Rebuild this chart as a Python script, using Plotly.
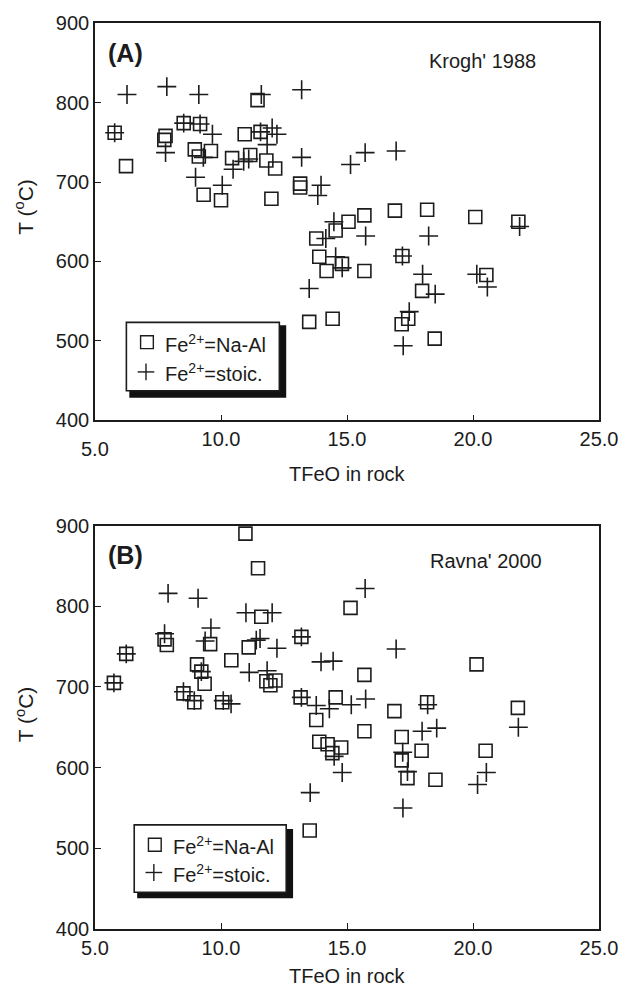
import plotly.graph_objects as go

# ---------------- Panel A (Krogh' 1988) ----------------
a_sq_x = [5.78, 6.23, 7.80, 7.75, 8.52, 9.17, 8.96, 9.12, 9.60, 9.31, 10.00, 10.44, 10.94, 11.16,
          11.45, 11.57, 11.80, 12.15, 12.00, 13.14, 13.14, 13.78, 13.90, 14.55, 15.06, 14.80, 14.19,
          13.50, 14.43, 15.69, 15.69, 16.90, 18.18, 20.09, 21.80, 17.20, 17.98, 20.53, 17.43, 17.17, 18.48]
a_sq_y = [762, 720, 758, 753, 774, 773, 741, 732, 739, 684, 677, 730, 760, 734,
          803, 763, 727, 717, 679, 698, 693, 629, 606, 639, 650, 597, 588,
          524, 528, 658, 588, 664, 665, 656, 650, 607, 563, 583, 528, 521, 503]

a_pl_x = [6.27, 7.85, 9.12, 11.60, 13.20, 5.78, 7.80, 8.52, 9.17, 9.66, 9.30, 8.99, 10.05, 10.48,
          11.10, 10.90, 11.57, 12.03, 12.22, 11.83, 13.20, 13.97, 13.84, 15.14, 15.72, 16.95,
          14.48, 14.16, 14.55, 14.81, 13.50, 15.74, 21.85, 18.24, 17.20, 18.00, 18.50, 20.15,
          20.57, 17.47, 17.23]
a_pl_y = [810, 820, 810, 810, 816, 762, 737, 774, 773, 760, 731, 706, 696, 716,
          729, 726, 763, 768, 760, 747, 731, 696, 683, 722, 737, 739,
          650, 629, 606, 592, 566, 632, 644, 632, 607, 584, 559, 584,
          568, 537, 494]

# ---------------- Panel B (Ravna' 2000) ----------------
b_sq_x = [10.97, 11.47, 11.60, 15.14, 7.76, 7.85, 9.57, 13.19, 11.10, 10.41, 6.24, 5.75, 9.05, 9.22,
          9.35, 11.80, 11.96, 12.16, 8.51, 8.94, 10.05, 13.16, 14.55, 13.78, 13.90, 14.23, 14.42,
          14.77, 13.52, 16.88, 18.18, 21.78, 15.69, 17.17, 17.96, 17.17, 20.50, 17.40, 18.51,
          15.69, 20.14]
b_sq_y = [890, 847, 787, 798, 759, 752, 753, 762, 749, 733, 741, 705, 728, 719,
          704, 707, 702, 708, 692, 681, 681, 687, 687, 659, 632, 629, 618,
          625, 522, 670, 681, 674, 645, 638, 621, 609, 621, 587, 585,
          715, 728]

b_pl_x = [7.90, 9.09, 10.99, 12.03, 9.60, 7.76, 9.37, 11.55, 11.40, 13.19, 12.22, 6.24, 5.75,
          9.22, 11.12, 11.83, 13.97, 14.45, 8.51, 8.94, 10.09, 10.40, 13.19, 13.78, 14.30,
          14.49, 14.81, 13.54, 15.17, 15.74, 18.20, 21.80, 17.98, 18.56, 17.21, 20.53, 20.18,
          17.40, 17.22, 15.72, 16.95]
b_pl_y = [816, 810, 792, 792, 773, 766, 757, 760, 758, 762, 748, 741, 705,
          719, 718, 720, 731, 732, 694, 683, 683, 679, 687, 677, 673,
          614, 594, 569, 678, 685, 678, 650, 645, 649, 619, 594, 579,
          595, 550, 822, 747]

x_ticks = [5, 10, 15, 20, 25]
x_tick_text_a = ["", "10.0", "15.0", "20.0", "25.0"]
x_tick_text_b = ["5.0", "10.0", "15.0", "20.0", "25.0"]
y_ticks = [400, 500, 600, 700, 800, 900]

INK = "#1c1c1c"
FONT = "Liberation Sans"

# plot-area geometry (pixels)
W, H = 630, 989
L, R, T, B = 95, 609, 15, 929
A_BOTTOM, B_TOP = 416, 522
PW, PH = R - L, B - T


def px(x):
    return (x - L) / PW


def py(y):
    return (B - y) / PH


sq_marker = dict(symbol="square-open", size=13, color=INK, line=dict(width=1.6, color=INK))
pl_marker = dict(symbol="cross-thin-open", size=13.5, color=INK, line=dict(width=1.6, color=INK))

fig = go.Figure()
fig.add_trace(go.Scatter(x=a_sq_x, y=a_sq_y, mode="markers", marker=sq_marker, xaxis="x", yaxis="y", showlegend=False))
fig.add_trace(go.Scatter(x=a_pl_x, y=a_pl_y, mode="markers", marker=pl_marker, xaxis="x", yaxis="y", showlegend=False))
fig.add_trace(go.Scatter(x=b_sq_x, y=b_sq_y, mode="markers", marker=sq_marker, xaxis="x2", yaxis="y2", showlegend=False))
fig.add_trace(go.Scatter(x=b_pl_x, y=b_pl_y, mode="markers", marker=pl_marker, xaxis="x2", yaxis="y2", showlegend=False))

axis_common = dict(showline=True, mirror=True, linecolor=INK, linewidth=1.6, ticks="inside",
                   ticklen=6, tickwidth=1.4, tickcolor=INK, showgrid=False, zeroline=False,
                   tickfont=dict(family=FONT, size=20, color=INK))

a_dom = [py(A_BOTTOM), 1]
b_dom = [0, py(B_TOP)]

fig.update_layout(
    width=W, height=H,
    margin=dict(l=L, r=W - R, t=T, b=H - B),
    paper_bgcolor="white", plot_bgcolor="white",
    font=dict(family=FONT, size=20, color=INK),
    xaxis=dict(domain=[0, 1], range=[5, 25], anchor="y", tickvals=x_ticks, ticktext=x_tick_text_a,
               **axis_common),
    yaxis=dict(domain=a_dom, range=[400, 900], anchor="x", tickvals=y_ticks, **axis_common),
    xaxis2=dict(domain=[0, 1], range=[5, 25], anchor="y2", tickvals=x_ticks, ticktext=x_tick_text_b,
                **axis_common),
    yaxis2=dict(domain=b_dom, range=[400, 900], anchor="x2", tickvals=y_ticks, **axis_common),
)

shapes = []
annotations = []


def text_at(x, y, text, size=20, xanchor="center", angle=0, xref="paper"):
    annotations.append(dict(xref=xref, yref="paper", x=x if xref != "paper" else px(x), y=py(y),
                            xanchor=xanchor, yanchor="middle", showarrow=False, textangle=angle,
                            text=text, font=dict(family=FONT, size=size, color=INK)))


def add_legend(box, shadow, sq_c, pl_c, text_x):
    shapes.append(dict(type="rect", xref="paper", yref="paper",
                       x0=px(shadow[0]), x1=px(shadow[2]), y0=py(shadow[3]), y1=py(shadow[1]),
                       fillcolor="#111111", line=dict(width=0)))
    shapes.append(dict(type="rect", xref="paper", yref="paper",
                       x0=px(box[0]), x1=px(box[2]), y0=py(box[3]), y1=py(box[1]),
                       fillcolor="white", line=dict(width=1.6, color=INK)))
    s = 6.5
    shapes.append(dict(type="rect", xref="paper", yref="paper",
                       x0=px(sq_c[0] - s), x1=px(sq_c[0] + s), y0=py(sq_c[1] + s), y1=py(sq_c[1] - s),
                       line=dict(width=1.4, color=INK)))
    a = 8.5
    shapes.append(dict(type="line", xref="paper", yref="paper",
                       x0=px(pl_c[0] - a), x1=px(pl_c[0] + a), y0=py(pl_c[1]), y1=py(pl_c[1]),
                       line=dict(width=1.4, color=INK)))
    shapes.append(dict(type="line", xref="paper", yref="paper",
                       x0=px(pl_c[0]), x1=px(pl_c[0]), y0=py(pl_c[1] - a), y1=py(pl_c[1] + a),
                       line=dict(width=1.4, color=INK)))
    text_at(text_x, sq_c[1] + 1, "Fe<sup>2+</sup>=Na-Al", size=20, xanchor="left")
    text_at(text_x, pl_c[1] + 1, "Fe<sup>2+</sup>=stoic.", size=20, xanchor="left")


add_legend((127, 317, 283, 386), (130, 320, 290, 393), (148, 337), (147, 367), 164)
add_legend((135, 824, 290, 892), (138, 828, 297, 898), (156, 844), (155, 872), 172)

# panel labels
text_at(126, 45, "<b>(A)</b>", size=25)
text_at(490, 53, "Krogh' 1988")
text_at(126, 552, "<b>(B)</b>", size=25)
text_at(494, 558, "Ravna' 2000")

# axis titles
text_at(23, 200, "T (<sup>o</sup>C)", size=21, angle=-90)
text_at(23, 712, "T (<sup>o</sup>C)", size=21, angle=-90)
text_at(352, 470, "TFeO in rock")
text_at(352, 976, "TFeO in rock")

# offset "5.0" tick label of panel A (sits lower in the original)
text_at(x_ticks[0], 445, "5.0", xref="x")

fig.update_layout(shapes=shapes, annotations=annotations)

fig.write_html("out.html")
